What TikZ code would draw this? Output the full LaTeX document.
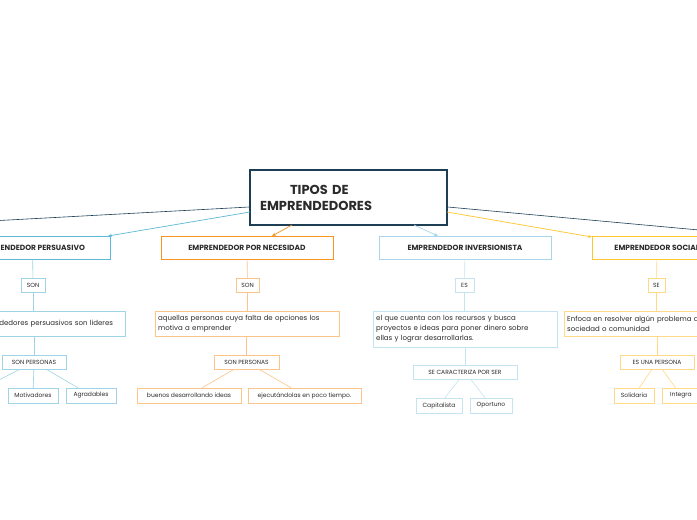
\documentclass[tikz,border=0pt]{standalone}
\usepackage{fontspec}
\setmainfont{Poppins}
\usetikzlibrary{arrows.meta}
\definecolor{navy}{HTML}{1D3F55}
\definecolor{pblue}{HTML}{5DB9D7}
\definecolor{pblueL}{HTML}{9FD3E6}
\definecolor{iblue}{HTML}{A9D6EA}
\definecolor{iblueL}{HTML}{C5E4F2}
\definecolor{orng}{HTML}{F7931E}
\definecolor{orngL}{HTML}{FBC48A}
\definecolor{yel}{HTML}{FFC629}
\definecolor{yelL}{HTML}{FFD986}
\definecolor{txt}{HTML}{2B2B2B}
\tikzset{
 box/.style={draw, fill=white, inner sep=0pt, text=txt, font=\fontsize{6}{7}\selectfont, align=center},
 head/.style={draw, fill=white, line width=1pt, inner sep=0pt, text=txt, font=\fontsize{7.5}{9}\bfseries\selectfont, minimum height=23pt},
 para/.style={draw, fill=white, inner sep=3pt, text=txt, font=\fontsize{7}{10}\selectfont, align=left, anchor=north west},
 conn/.style={line width=0.6pt},
 arr/.style={line width=0.7pt, -{Stealth[length=4pt,width=3pt]}}
}
\begin{document}
\begin{tikzpicture}[x=1pt,y=-1pt]
\useasboundingbox (0,0) rectangle (697,520);
\fill[white] (0,0) rectangle (697,520);
% central
\node[draw=navy, line width=1.4pt, fill=white, text width=177pt, minimum height=55pt, inner sep=10pt, font=\fontsize{13}{16}\bfseries\selectfont, text=txt, align=left] (c) at (348.5,197.5) {\hspace*{30pt}TIPOS DE\\EMPRENDEDORES};
% heads
\node[head, draw=pblue, minimum width=155pt] (p) at (32.5,247.5) {EMPRENDEDOR PERSUASIVO};
\node[head, draw=orng, minimum width=172pt] (n) at (247,247.5) {EMPRENDEDOR POR NECESIDAD};
\node[head, draw=iblue, minimum width=172pt] (i) at (465,247.5) {EMPRENDEDOR INVERSIONISTA};
\node[head, draw=yel, minimum width=130pt] (s) at (657,247.5) {EMPRENDEDOR SOCIAL};
\coordinate (offL) at (-10,221);
\coordinate (offR) at (710,231);
\draw[conn, navy] (c.west|-0,207) -- (offL);
\draw[conn, navy] (c.east|-0,207) -- (offR);
\draw[arr, pblue] (250,212) -- (108,236);
\draw[arr, orng] (292,225) -- (272,236);
\draw[arr, iblue] (414,225) -- (438,236);
\draw[arr, yel] (447,212) -- (592,237);
% persuasivo branch
\node[box, draw=pblueL, minimum width=24pt, minimum height=14pt] (p1) at (33,285) {SON};
\node[para, draw=pblueL, text width=164pt, minimum height=25pt] (p2) at (-45,311) {Los emprendedores persuasivos son lideres};
\node[box, draw=pblueL, minimum width=64pt, minimum height=14pt] (p3) at (34,362) {SON PERSONAS};
\node[box, draw=pblueL, minimum width=50pt, minimum height=15pt] (p4) at (33,395.5) {Motivadores};
\node[box, draw=pblueL, minimum width=50pt, minimum height=15pt] (p5) at (91,395.5) {Agradables};
\coordinate (p6) at (-5,382);
\draw[conn, pblueL] (p) -- (p1); \draw[conn, pblueL] (p1) -- (p2.north-|p1);
\draw[conn, pblueL] (p2.south-|p3) -- (p3);
\draw[conn, pblueL] (p3) -- (p4); \draw[conn, pblueL] (p3) -- (p5); \draw[conn, pblueL] (p3) -- (p6);
% necesidad branch
\node[box, draw=orngL, minimum width=23pt, minimum height=14pt] (n1) at (247.5,285) {SON};
\node[para, draw=orngL, text width=178pt, minimum height=25pt] (n2) at (155,311) {aquellas personas cuya falta de opciones los\\motiva a emprender};
\node[box, draw=orngL, minimum width=65pt, minimum height=14pt] (n3) at (246.5,362) {SON PERSONAS};
\node[box, draw=orngL, minimum width=104pt, minimum height=15pt] (n4) at (189,395.5) {buenos desarrollando ideas};
\node[box, draw=orngL, minimum width=113pt, minimum height=15pt] (n5) at (304.5,395.5) {ejecutándolas en poco tiempo.};
\draw[conn, orngL] (n) -- (n1); \draw[conn, orngL] (n1) -- (n2.north-|n1);
\draw[conn, orngL] (n2.south-|n3) -- (n3);
\draw[conn, orngL] (n3) -- (n4); \draw[conn, orngL] (n3) -- (n5);
% inversionista branch
\node[box, draw=iblueL, minimum width=19pt, minimum height=14pt] (i1) at (464.5,285) {ES};
\node[para, draw=iblueL, text width=178pt, minimum height=36pt] (i2) at (373,311) {el que cuenta con los recursos y busca\\proyectos e ideas para poner dinero sobre\\ellas y lograr desarrollarlas.};
\node[box, draw=iblueL, minimum width=104pt, minimum height=14pt] (i3) at (465,372) {SE CARACTERIZA POR SER};
\node[box, draw=iblueL, minimum width=46pt, minimum height=15pt] (i4) at (439,405.5) {Capitalista};
\node[box, draw=iblueL, minimum width=42pt, minimum height=15pt] (i5) at (491,405.5) {Oportuno};
\draw[conn, iblueL] (i) -- (i1); \draw[conn, iblueL] (i1) -- (i2.north-|i1);
\draw[conn, iblueL] (i2.south-|i3) -- (i3);
\draw[conn, iblueL] (i3) -- (i4); \draw[conn, iblueL] (i3) -- (i5);
% social branch
\node[box, draw=yelL, minimum width=17pt, minimum height=14pt] (s1) at (656.5,285) {SE};
\node[para, draw=yelL, text width=178pt, minimum height=25pt] (s2) at (564,311) {Enfoca en resolver algún problema de la\\sociedad o comunidad};
\node[box, draw=yelL, minimum width=74pt, minimum height=14pt] (s3) at (657,362) {ES UNA PERSONA};
\node[box, draw=yelL, minimum width=40pt, minimum height=15pt] (s4) at (634,395.5) {Solidaria};
\node[box, draw=yelL, minimum width=38pt, minimum height=15pt] (s5) at (681,395.5) {Integra};
\draw[conn, yelL] (s) -- (s1); \draw[conn, yelL] (s1) -- (s2.north-|s1);
\draw[conn, yelL] (s2.south-|s3) -- (s3);
\draw[conn, yelL] (s3) -- (s4); \draw[conn, yelL] (s3) -- (s5);
\end{tikzpicture}
\end{document}
